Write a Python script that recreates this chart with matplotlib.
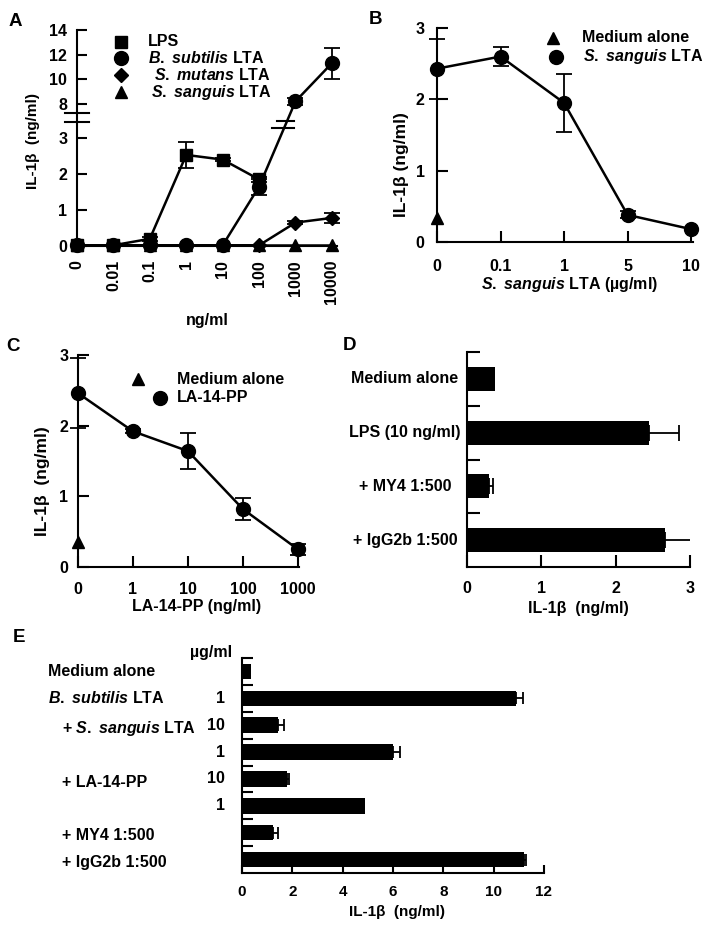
import numpy as np
import matplotlib.pyplot as plt
from matplotlib.lines import Line2D

plt.rcParams['font.family'] = ['Liberation Sans', 'DejaVu Sans']
plt.rcParams['font.weight'] = 'bold'
plt.rcParams['axes.labelweight'] = 'bold'
plt.rcParams['font.size'] = 11.5
plt.rcParams['mathtext.fontset'] = 'custom'
plt.rcParams['mathtext.it'] = 'Liberation Sans:italic:bold'
plt.rcParams['mathtext.rm'] = 'Liberation Sans:bold'
plt.rcParams['mathtext.bf'] = 'Liberation Sans:bold'
plt.rcParams['axes.linewidth'] = 1.5

FS = 11.5

# ---------------- data ----------------
# A: dose response (ng/ml)
a_doses = ['0', '0.01', '0.1', '1', '10', '100', '1000', '10000']
a_lps = [0.02, 0.02, 0.2, 2.53, 2.4, 1.85]
a_lps_err = [0, 0, 0.05, 0.36, 0.05, 0.08]
a_bsub = [0.02, 0.02, 0.02, 0.02, 0.02, 1.65, 8.2, 11.3]
a_bsub_err = [0, 0, 0, 0, 0, 0.22, 0.3, 1.25]
a_smut = [0.02, 0.02, 0.02, 0.02, 0.02, 0.02, 0.65, 0.78]
a_smut_err = [0, 0, 0, 0, 0, 0, 0.04, 0.15]
a_ssang = [0.02, 0.02, 0.02, 0.02, 0.02, 0.02, 0.02, 0.02]

# B: S. sanguis LTA (ug/ml)
b_doses = ['0', '0.1', '1', '5', '10']
b_ssang = [2.43, 2.6, 1.95, 0.38, 0.18]
b_ssang_err = [0.42, 0.13, 0.41, 0.05, 0]
b_medium = 0.34

# C: LA-14-PP (ng/ml)
c_doses = ['0', '1', '10', '100', '1000']
c_la = [2.46, 1.92, 1.64, 0.82, 0.25]
c_la_err = [0.5, 0.03, 0.26, 0.15, 0.08]
c_medium = 0.35

# D
d_labels = ['Medium alone', 'LPS (10 ng/ml)', '+ MY4 1:500', '+ IgG2b 1:500']
d_vals = [0.38, 2.45, 0.3, 2.67]
d_err = [0, 0.4, 0.05, 0.42]

# E
e_labels = ['Medium alone', r'$\mathit{B.\ subtilis}$ LTA', r'+ $\mathit{S.\ sanguis}$ LTA',
            '', '+ LA-14-PP', '', '+ MY4 1:500', '+ IgG2b 1:500']
e_doses = ['', '1', '10', '1', '10', '1', '', '']
e_vals = [0.36, 10.9, 1.44, 6.0, 1.8, 4.9, 1.22, 11.2]
e_err = [0, 0.25, 0.24, 0.27, 0.08, 0, 0.2, 0.1]

W, H = 714, 934
fig = plt.figure(figsize=(W / 100, H / 100), dpi=100)
RECT = {}


def add_axes(name, left, top, right, bottom):
    ax = fig.add_axes([left / W, 1 - bottom / H, (right - left) / W, (bottom - top) / H])
    RECT[name] = (left, top, right, bottom)
    ax.spines['top'].set_visible(False)
    ax.spines['right'].set_visible(False)
    return ax


def to_ax(name, x, y):
    l, t, r, b = RECT[name]
    return (x - l) / (r - l), (b - y) / (b - t)


def labels(ax, name, xl, xpos, yl, ypos, xsize=FS, ysize=FS):
    if xl:
        ax.set_xlabel(xl, fontsize=xsize, va='center', ha='center')
        ax.xaxis.set_label_coords(*to_ax(name, *xpos))
    if yl:
        ax.set_ylabel(yl, fontsize=ysize, va='center', ha='center')
        ax.yaxis.set_label_coords(*to_ax(name, *ypos))


def key(mx, my, marker, ms, tx, text):
    fig.add_artist(Line2D([mx / W], [1 - my / H], marker=marker, ms=ms, color='k',
                          ls='none', transform=fig.transFigure))
    fig.text(tx / W, 1 - my / H, text, ha='left', va='center', fontsize=FS)


def letter(x, y, s):
    fig.text(x / W, 1 - y / H, s, ha='center', va='center', fontsize=13.5)


def series(ax, x, y, err, marker, ms):
    x = np.asarray(x, float)
    y = np.asarray(y, float)
    err = np.asarray(err, float)
    m = err > 0
    ax.errorbar(x[m], y[m], yerr=err[m], fmt='none', ecolor='k', elinewidth=1.3,
                capsize=5.5, capthick=1.3, clip_on=False)
    ax.plot(x, y, '-', marker=marker, ms=ms, color='k', lw=1.8, clip_on=False)


# ---------------- A ----------------
axA = add_axes('A', 77, 30, 337, 246)
brk_data = [-1, 0, 3.45, 7.5, 14, 20]
brk_disp = [-1, 0, 3.45, 3.78, 6.0, 8.05]
axA.set_yscale('function', functions=(lambda v: np.interp(v, brk_data, brk_disp),
                                      lambda v: np.interp(v, brk_disp, brk_data)))
xa = np.arange(len(a_doses))
series(axA, xa[:len(a_lps)], a_lps, a_lps_err, 's', 9)
series(axA, xa, a_bsub, a_bsub_err, 'o', 10)
series(axA, xa, a_smut, a_smut_err, 'D', 7)
series(axA, xa, a_ssang, np.zeros(len(xa)), '^', 9)
axA.set_xlim(0, 7.14)
axA.set_ylim(0, 14)
axA.set_yticks([0, 1, 2, 3, 8, 10, 12, 14])
axA.set_xticks(xa, a_doses, rotation=90)
axA.tick_params(axis='y', direction='in', length=7, width=1.5, pad=7)
axA.tick_params(axis='x', length=0, pad=10)
# axis break marks
ytr = axA.get_yaxis_transform()
for yb in (6.45, 3.44):
    axA.plot([-0.046, 0.046], [yb, yb], color='k', lw=1.5, transform=ytr, clip_on=False)
axA.plot([5.5, 5.95], [3.72, 3.72], color='k', lw=1.5, clip_on=False)
axA.plot([5.35, 5.95], [3.28, 3.28], color='k', lw=1.5, clip_on=False)
labels(axA, 'A', 'ng/ml', (207, 320), 'IL-1β  (ng/ml)', (33, 141), FS, 11)
key(121, 42, 's', 9, 148, 'LPS')
key(121, 58, 'o', 10, 148, r'$\mathit{B.\ subtilis}$ LTA')
key(121, 75, 'D', 7, 154, r'$\mathit{S.\ mutans}$ LTA')
key(121, 92, '^', 9, 151, r'$\mathit{S.\ sanguis}$ LTA')
letter(15, 22, 'A')

# ---------------- B ----------------
axB = add_axes('B', 437, 28, 693, 242)
xb = np.arange(len(b_doses))
series(axB, xb, b_ssang, b_ssang_err, 'o', 10)
axB.plot([0], [b_medium], '^', ms=9, color='k', clip_on=False)
axB.set_xlim(0, 4.03)
axB.set_ylim(0, 3)
axB.set_yticks([0, 1, 2, 3])
axB.set_xticks(xb, b_doses)
axB.tick_params(direction='in', length=8, width=1.5)
axB.tick_params(axis='x', pad=12)
axB.tick_params(axis='y', pad=9)
labels(axB, 'B', r'$\mathit{S.\ sanguis}$ LTA (µg/ml)', (570, 285),
       'IL-1β (ng/ml)', (401, 165), FS, 12.5)
key(553, 38, '^', 9, 582, 'Medium alone')
key(556, 57, 'o', 10, 583, r'$\mathit{S.\ sanguis}$ LTA')
letter(375, 20, 'B')

# ---------------- C ----------------
axC = add_axes('C', 78, 355, 299, 567)
xc = np.arange(len(c_doses))
series(axC, xc, c_la, c_la_err, 'o', 10)
axC.plot([0], [c_medium], '^', ms=9, color='k', clip_on=False)
axC.set_xlim(0, 4.02)
axC.set_ylim(0, 3)
axC.set_yticks([0, 1, 2, 3])
axC.set_xticks(xc, c_doses)
axC.tick_params(direction='in', length=8, width=1.5)
axC.tick_params(axis='x', pad=11)
axC.tick_params(axis='y', pad=7)
labels(axC, 'C', 'LA-14-PP (ng/ml)', (197, 607), 'IL-1β  (ng/ml)', (42, 481), FS, 12.5)
key(138, 379, '^', 9, 177, 'Medium alone')
key(160, 398, 'o', 10, 177, 'LA-14-PP')
letter(13, 347, 'C')

# ---------------- D ----------------
axD = add_axes('D', 467, 352, 690, 567)
yd = np.arange(len(d_labels))
axD.barh(yd, d_vals, height=0.45, color='k')
de = np.asarray(d_err)
md = de > 0
axD.errorbar(np.asarray(d_vals)[md], yd[md], xerr=[np.zeros(md.sum()), de[md]], fmt='none',
             ecolor='k', elinewidth=1.3, capsize=5.5, capthick=1.3)
axD.set_xlim(0, 3)
axD.set_ylim(3.5, -0.5)
axD.set_xticks([0, 1, 2, 3])
axD.set_yticks([-0.5, 0.5, 1.5, 2.5])
axD.set_yticklabels([])
axD.tick_params(direction='in', length=9, width=1.5)
axD.tick_params(axis='x', pad=10)
for yy, s in zip(yd, d_labels):
    axD.text(to_ax('D', 405, 0)[0], yy, s, ha='center', va='center', fontsize=FS,
             transform=axD.get_yaxis_transform())
labels(axD, 'D', 'IL-1β  (ng/ml)', (578, 609), None, None)
letter(350, 345, 'D')

# ---------------- E ----------------
axE = add_axes('E', 242, 658, 544, 873)
ye = np.arange(len(e_labels))
axE.barh(ye, e_vals, height=0.58, color='k')
ee = np.asarray(e_err)
me = ee > 0
axE.errorbar(np.asarray(e_vals)[me], ye[me], xerr=[np.zeros(me.sum()), ee[me]], fmt='none',
             ecolor='k', elinewidth=1.3, capsize=4.5, capthick=1.3)
axE.set_xlim(0, 12)
axE.set_ylim(7.5, -0.5)
axE.set_xticks(np.arange(0, 13, 2))
axE.set_yticks(np.arange(-0.5, 7, 1.0))
axE.set_yticklabels([])
axE.tick_params(direction='in', length=8, width=1.5)
axE.tick_params(axis='x', length=6, pad=9, labelsize=11)
etr = axE.get_yaxis_transform()
for yy, s in zip(ye, e_labels):
    if not s:
        continue
    xpx = 62 if s.startswith('+') else 48
    dy = 0.12 if s.startswith('+') else 0
    axE.text(to_ax('E', xpx, 0)[0], yy + dy, s, ha='left', va='center', fontsize=FS,
             transform=etr)
for yy, s in zip(ye, e_doses):
    if s:
        axE.text(to_ax('E', 225, 0)[0], yy, s, ha='right', va='center', fontsize=FS,
                 transform=etr)
axE.text(to_ax('E', 232, 0)[0], -0.69, 'µg/ml', ha='right', va='center', fontsize=FS,
         transform=etr)
labels(axE, 'E', 'IL-1β  (ng/ml)', (397, 912), None, None, xsize=11)
letter(19, 637, 'E')

fig.savefig('out.png', dpi=100)
